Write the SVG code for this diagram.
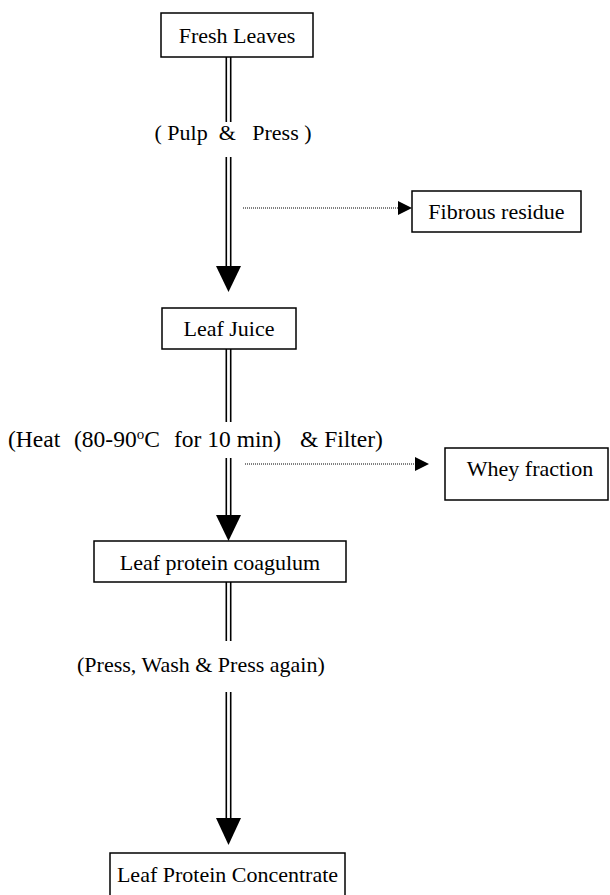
<svg xmlns="http://www.w3.org/2000/svg" width="610" height="895" viewBox="0 0 610 895" font-family="'Liberation Serif', 'Times New Roman', 'DejaVu Serif', serif">
<style>
text{font-family:'Liberation Serif','Times New Roman','DejaVu Serif',serif;font-size:22px;fill:#000}
.box{fill:#fff;stroke:#000;stroke-width:1.5}
.dl{stroke:#000;stroke-width:1.6;fill:none}
.dot{stroke:#000;stroke-width:1;stroke-dasharray:1 1;fill:none}
.head{fill:#000}
</style>
<rect width="610" height="895" fill="#fff"/>
<g id="connectors">
  <line class="dl" x1="226.3" y1="57" x2="226.3" y2="122"/>
  <line class="dl" x1="230.7" y1="57" x2="230.7" y2="122"/>
  <line class="dl" x1="226.3" y1="157" x2="226.3" y2="268"/>
  <line class="dl" x1="230.7" y1="157" x2="230.7" y2="268"/>
  <polygon class="head" points="216,266 241,266 228.5,292"/>
  <line class="dot" x1="243" y1="208" x2="399" y2="208"/>
  <polygon class="head" points="398,201 412,208 398,215"/>

  <line class="dl" x1="226.3" y1="349" x2="226.3" y2="422"/>
  <line class="dl" x1="230.7" y1="349" x2="230.7" y2="422"/>
  <line class="dl" x1="226.3" y1="458" x2="226.3" y2="517"/>
  <line class="dl" x1="230.7" y1="458" x2="230.7" y2="517"/>
  <polygon class="head" points="216,515 241,515 228.5,541"/>
  <line class="dot" x1="245" y1="464" x2="416" y2="464"/>
  <polygon class="head" points="415,457 429,464 415,471"/>

  <line class="dl" x1="226.3" y1="582" x2="226.3" y2="641"/>
  <line class="dl" x1="230.7" y1="582" x2="230.7" y2="641"/>
  <line class="dl" x1="226.3" y1="692" x2="226.3" y2="820"/>
  <line class="dl" x1="230.7" y1="692" x2="230.7" y2="820"/>
  <polygon class="head" points="216,818 241,818 228.5,845"/>

  <text x="233" y="140" text-anchor="middle" xml:space="preserve">( Pulp  &amp;   Press )</text>
  <text y="447" style="font-size:23.5px"><tspan x="8">(Heat</tspan><tspan x="74">(80-90</tspan><tspan style="font-size:15px" dy="-8">o</tspan><tspan dy="8">C</tspan><tspan x="174">for 10 min)</tspan><tspan x="300">&amp; Filter)</tspan></text>
  <text x="77" y="672">(Press, Wash &amp; Press again)</text>
</g>
<g id="fresh-leaves">
  <rect class="box" x="161" y="13" width="152" height="44"/>
  <text x="237" y="43" text-anchor="middle">Fresh Leaves</text>
</g>
<g id="fibrous-residue">
  <rect class="box" x="412" y="191" width="169" height="41"/>
  <text x="496.5" y="219" text-anchor="middle">Fibrous residue</text>
</g>
<g id="leaf-juice">
  <rect class="box" x="162" y="308" width="134" height="41"/>
  <text x="229" y="336" text-anchor="middle">Leaf Juice</text>
</g>
<g id="whey-fraction">
  <rect class="box" x="445" y="448" width="163" height="52"/>
  <text x="530" y="476" text-anchor="middle">Whey fraction</text>
</g>
<g id="leaf-protein-coagulum">
  <rect class="box" x="94" y="541" width="252" height="41"/>
  <text x="220" y="570" text-anchor="middle">Leaf protein coagulum</text>
</g>
<g id="leaf-protein-concentrate">
  <rect class="box" x="110" y="853" width="235" height="50"/>
  <text x="227.5" y="882" text-anchor="middle">Leaf Protein Concentrate</text>
</g>
</svg>
